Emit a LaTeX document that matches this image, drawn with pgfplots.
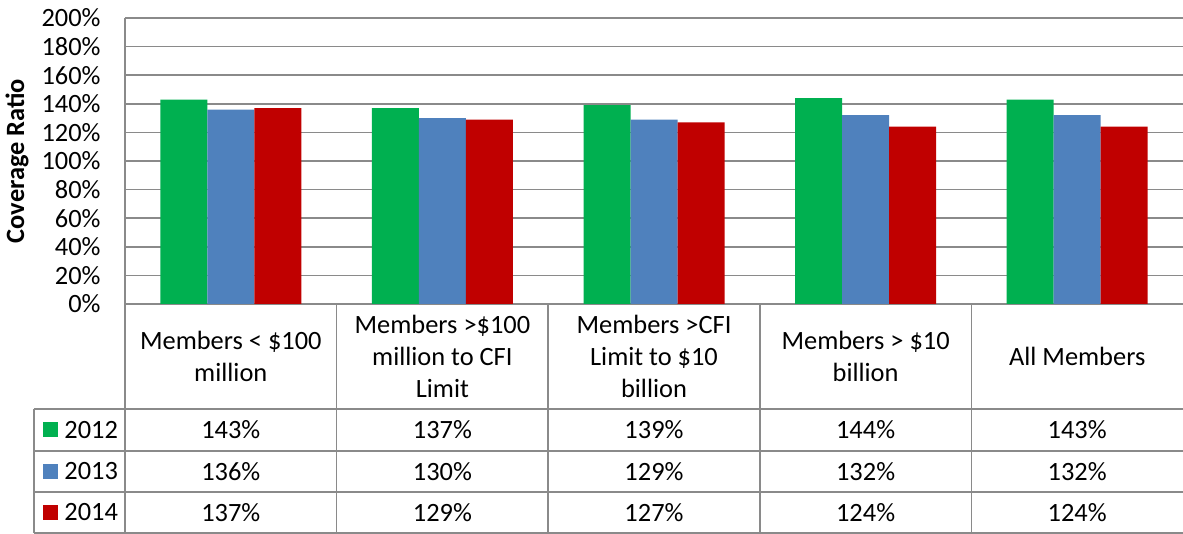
\documentclass[border=0pt]{standalone}
\usepackage{fontspec}
\setmainfont{Carlito}
\usepackage{pgfplots}
\pgfplotsset{compat=1.18}
\usepackage{pgfplotstable}
\definecolor{cg}{HTML}{00B050}
\definecolor{cb}{HTML}{4F81BD}
\definecolor{cr}{HTML}{C00000}
\definecolor{gl}{HTML}{8A8A8A}
\pgfplotstableread{
x y2012 y2013 y2014
0 143 136 137
1 137 130 129
2 139 129 127
3 144 132 124
4 143 132 124
}\data
\begin{document}
\fontsize{13.2}{16}\selectfont
\begin{tikzpicture}
\begin{axis}[
  at={(0,0)}, anchor=south west,
  scale only axis, width=529pt, height=143pt,
  xmin=-0.5, xmax=4.5, ymin=0, ymax=200,
  ybar=0pt, bar width=23.5pt,
  ytick={0,20,...,200},
  yticklabels={0\%,20\%,40\%,60\%,80\%,100\%,120\%,140\%,160\%,180\%,200\%},
  xtick=\empty,
  ymajorgrids, grid style={gl, line width=0.8pt},
  axis y line*=left, axis x line*=bottom,
  axis line style={gl, line width=0.8pt},
  major tick length=0pt,
  yticklabel style={font=\fontsize{13.2}{16}\selectfont, anchor=east, inner sep=0pt, xshift=-12pt},
  clip=false,
]
\addplot[fill=cg, draw=none] table[x=x,y=y2012]{\data};
\addplot[fill=cb, draw=none] table[x=x,y=y2013]{\data};
\addplot[fill=cr, draw=none] table[x=x,y=y2014]{\data};
\end{axis}
\begin{scope}[x=0.5pt,y=0.5pt, every node/.style={font=\fontsize{13.2}{16}\selectfont, inner sep=0pt}]
  % y label
  \node[rotate=90, font=\fontsize{13.2}{16}\selectfont\bfseries] at (-108,143) {Coverage Ratio};
  % table grid
  \begin{scope}[draw=gl, line width=0.8pt]
    \draw (0,0) -- (0,-229);
    \draw (-91,-105) -- (-91,-229);
    \foreach \k in {1,2,3,4} { \draw ({\k*211.6},0) -- ({\k*211.6},-229); }
    \foreach \yy in {-105,-147,-188,-229} { \draw (-91,\yy) -- (1058,\yy); }
  \end{scope}
  % header
  \foreach \k/\t in {0/{Members < \$100\\million},
                     1/{Members >\$100\\million to CFI\\Limit},
                     2/{Members >CFI\\Limit to \$10\\billion},
                     3/{Members > \$10\\billion},
                     4/{All Members}} {
    \node[align=center] at ({(\k+0.5)*211.6},-52.5) {\t};
  }
  % legend keys
  \foreach \c/\yr/\yy in {cg/2012/-126, cb/2013/-167.5, cr/2014/-208.5} {
    \fill[\c] (-82,\yy-7.5) rectangle (-67,\yy+7.5);
    \node[anchor=west] at (-61,\yy) {\yr};
  }
  % values
  \foreach \k/\a/\b/\c in {0/143/136/137, 1/137/130/129, 2/139/129/127, 3/144/132/124, 4/143/132/124} {
    \node at ({(\k+0.5)*211.6},-126) {\a\%};
    \node at ({(\k+0.5)*211.6},-167.5) {\b\%};
    \node at ({(\k+0.5)*211.6},-208.5) {\c\%};
  }
  \pgfresetboundingbox
  \path[use as bounding box] (-125,-230) rectangle (1058,304);
\end{scope}
\end{tikzpicture}
\end{document}
